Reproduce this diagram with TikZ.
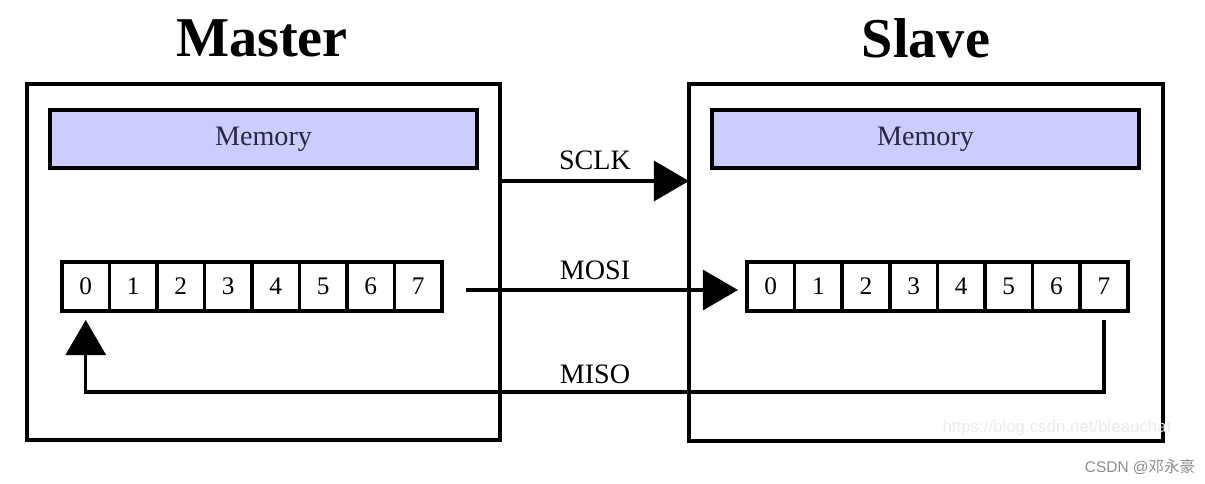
\documentclass[tikz,border=0pt]{standalone}
\usepackage{fontspec}
\setmainfont{Liberation Serif}
\newfontfamily\wmfont{Liberation Sans}
\newfontfamily\cjk{Noto Sans CJK SC}
\usetikzlibrary{arrows.meta,positioning,calc}

\definecolor{memfill}{RGB}{204,204,255}
\definecolor{memtext}{RGB}{40,40,64}

\tikzset{
  unit/.style={draw=black, line width=3pt, inner sep=0pt, outer sep=0pt},
  membox/.style={draw=black, fill=memfill, line width=3pt, minimum width=10.675cm, minimum height=1.45cm, inner sep=0pt, outer sep=0pt, text=memtext, font=\fontsize{20}{24}\selectfont},
  cell/.style={draw=black, fill=white, line width=2.5pt, minimum width=1.19cm, minimum height=1.225cm, inner sep=0pt, outer sep=0pt, font=\fontsize{18}{22}\selectfont},
  title/.style={font=\fontsize{40}{48}\selectfont\bfseries},
  sig/.style={line width=2.2pt, -{Triangle[length=0.875cm, width=1cm]}},
  siglabel/.style={font=\fontsize{20}{24}\selectfont}
}

\begin{document}
\begin{tikzpicture}[x=0.025cm, y=0.025cm]
  \useasboundingbox (0,0) rectangle (1205,484);

  % boxes
  \node[unit, minimum width=11.825cm, minimum height=8.9cm] (master) at (263.5,222) {};
  \node[unit, minimum width=11.85cm, minimum height=8.925cm] (slave) at (926,221.5) {};
  \node[title] (mtitle) at (262,446) {Master};
  \node[title] (stitle) at (926,446) {Slave};

  % memory
  \node[membox] (mmem) at (263.5,345) {Memory};
  \node[membox] (smem) at (925.5,345) {Memory};

  % shift registers
  \foreach \i in {0,...,7} {
    \node[cell] (m\i) at ({85.75+47.5*\i},197.5) {\i};
    \node[cell] (s\i) at ({770.8+47.6*\i},197.5) {\i};
  }

  % signals
  \coordinate (sclkout) at (500,303);
  \coordinate (mosiout) at (466,194);
  \node[siglabel] (sclk) at (595,324) {SCLK};
  \node[siglabel] (mosi) at (595,214) {MOSI};
  \node[siglabel] (miso) at (595,110) {MISO};

  \draw[sig] (sclkout) -- (slave.west |- sclkout);
  \draw[sig, shorten >=0.225cm] (mosiout) -- (s0.west |- mosiout);
  \draw[sig, shorten <=0.225cm, shorten >=0.225cm] (s7.south) -- ++(0,-81) -| (m0.south);

  % watermark
  \node[text=black!8, font=\wmfont\fontsize{12}{14}\selectfont] (url) at (1057,56) {https://blog.csdn.net/bleauchat};
  \node[text=black!45, font=\fontsize{11}{13}\selectfont] (csdn) at (1140,17) {{\wmfont CSDN @}{\cjk 邓永豪}};
\end{tikzpicture}
\end{document}
